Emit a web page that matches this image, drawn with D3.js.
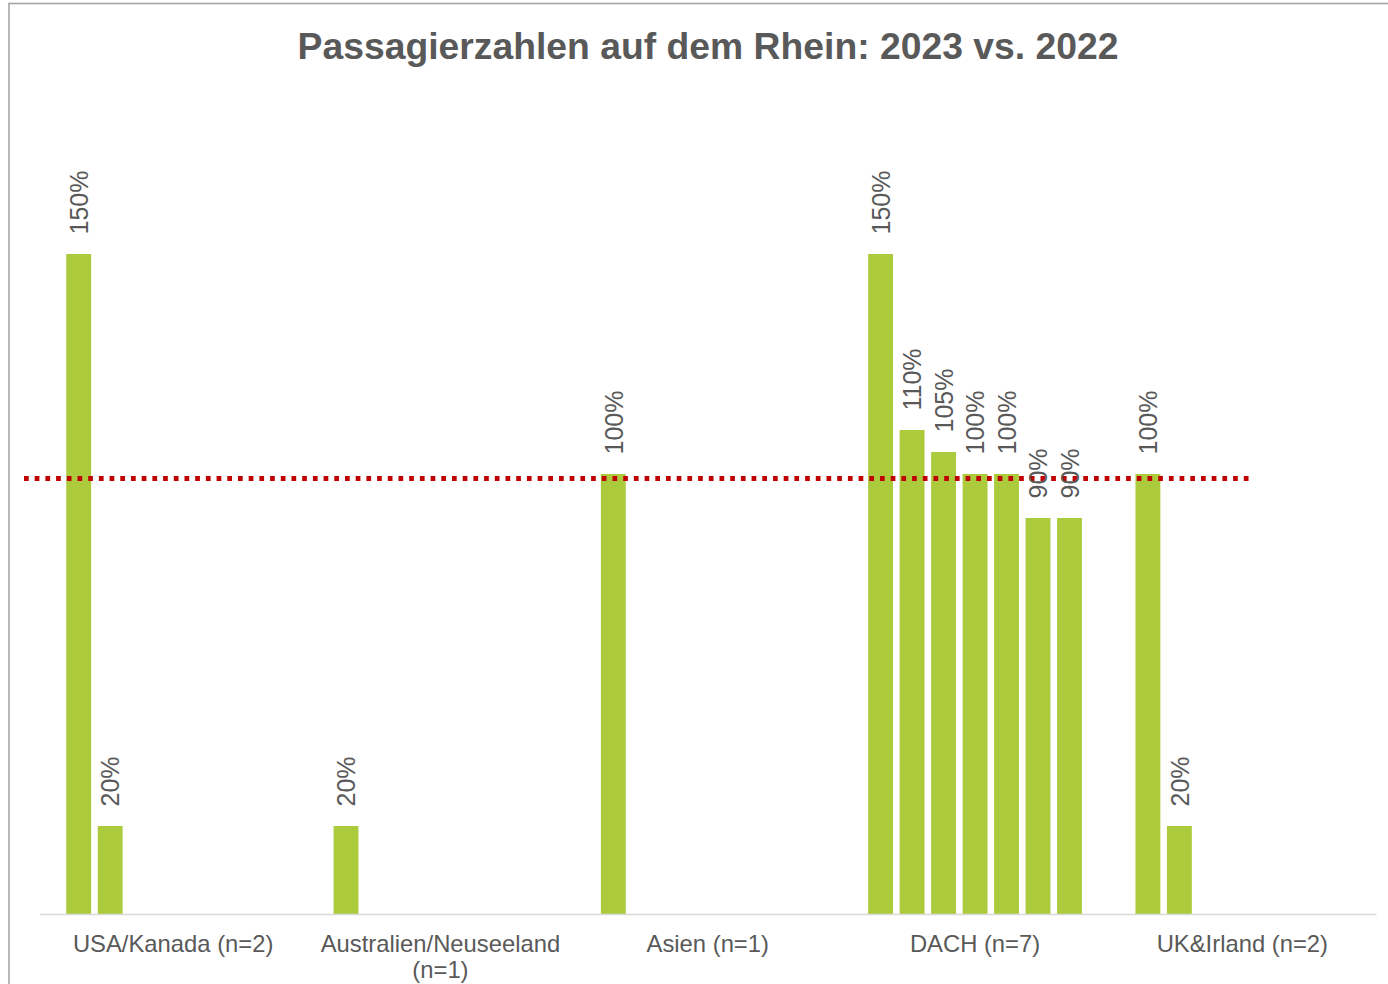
<!DOCTYPE html>
<html>
<head>
<meta charset="utf-8">
<script src="https://cdn.jsdelivr.net/npm/d3@7"></script>
<style>
  html, body { margin: 0; padding: 0; background: #fff; overflow: hidden; }
  svg { display: block; font-family: "Liberation Sans", Arial, sans-serif; }
</style>
</head>
<body>
<svg id="chart" width="1388" height="984"></svg>
<script>
// ---- data ----
const title = "Passagierzahlen auf dem Rhein: 2023 vs. 2022";
const categories = ["USA/Kanada (n=2)", "Australien/Neuseeland (n=1)", "Asien (n=1)", "DACH (n=7)", "UK&Irland (n=2)"];
const valuesUSA = [1.5, 0.2];
const valuesAustralien = [0.2];
const valuesAsien = [1.0];
const valuesDACH = [1.5, 1.1, 1.05, 1.0, 1.0, 0.9, 0.9];
const valuesUK = [1.0, 0.2];
const seriesSlots = 7;
const referenceValue = 0.99;

const groupValues = [valuesUSA, valuesAustralien, valuesAsien, valuesDACH, valuesUK];

// ---- layout ----
const svg = d3.select("#chart");
const W = 1388, H = 984;
const plot = { left: 39.5, right: 1376, top: 254, bottom: 914 };
const textColor = "#595959";
const barColor = "#abcb3c";

// outer frame
svg.append("rect")
  .attr("x", 9).attr("y", 3.5)
  .attr("width", W + 20).attr("height", H + 20)
  .attr("fill", "none").attr("stroke", "#a6a6a6").attr("stroke-width", 1.6);

// title
svg.append("text")
  .attr("x", 708).attr("y", 59)
  .attr("text-anchor", "middle")
  .attr("font-size", 37.3).attr("font-weight", "bold")
  .attr("fill", textColor)
  .text(title);

const x0 = d3.scaleBand().domain(categories).range([plot.left, plot.right]).padding(0);
const x1 = d3.scaleBand().domain(d3.range(seriesSlots)).range([0, x0.bandwidth()])
  .paddingInner(0.21).paddingOuter(0.85);
const y = d3.scaleLinear().domain([0, 1.5]).range([plot.bottom, plot.top]);

const data = [];
categories.forEach((c, i) => groupValues[i].forEach((v, j) => data.push({ cat: c, slot: j, value: v })));

// bars
svg.append("g").selectAll("rect").data(data).join("rect")
  .attr("x", d => x0(d.cat) + x1(d.slot))
  .attr("y", d => y(d.value))
  .attr("width", x1.bandwidth())
  .attr("height", d => y(0) - y(d.value))
  .attr("fill", barColor);

// axis line
const xAxis = svg.append("g").attr("transform", `translate(0,${plot.bottom})`)
  .call(d3.axisBottom(x0).tickSize(0).tickPadding(0));
xAxis.select(".domain").attr("stroke", "#d9d9d9").attr("stroke-width", 1.6);
xAxis.selectAll(".tick text").remove();

// category labels with wrapping
const fmt = d3.format(".0%");
const labelG = svg.append("g");
categories.forEach(c => {
  const cx = x0(c) + x0.bandwidth() / 2;
  const t = labelG.append("text")
    .attr("x", cx)
    .attr("y", 952)
    .attr("text-anchor", "middle")
    .attr("font-size", 23.8)
    .attr("fill", textColor);
  const words = c.split(" ");
  let line = [];
  let tspan = t.append("tspan").attr("x", cx).attr("dy", 0);
  words.forEach(w => {
    line.push(w);
    tspan.text(line.join(" "));
    if (tspan.node().getComputedTextLength() > 255 && line.length > 1) {
      line.pop();
      tspan.text(line.join(" "));
      line = [w];
      tspan = t.append("tspan").attr("x", cx).attr("dy", 26).text(w);
    }
  });
});

// reference line (dotted red)
svg.append("line")
  .attr("x1", 24).attr("x2", 1253)
  .attr("y1", y(referenceValue)).attr("y2", y(referenceValue))
  .attr("stroke", "#c00000").attr("stroke-width", 5)
  .attr("stroke-dasharray", "4.7 6");

// value labels
svg.append("g").selectAll("text").data(data).join("text")
  .attr("transform", d => {
    const cx = x0(d.cat) + x1(d.slot) + x1.bandwidth() / 2;
    return `translate(${cx},${y(d.value) - 19.5}) rotate(-90)`;
  })
  .attr("dy", "0.37em")
  .attr("text-anchor", "start")
  .attr("font-size", 25)
  .attr("fill", textColor)
  .text(d => fmt(d.value));
</script>
</body>
</html>
